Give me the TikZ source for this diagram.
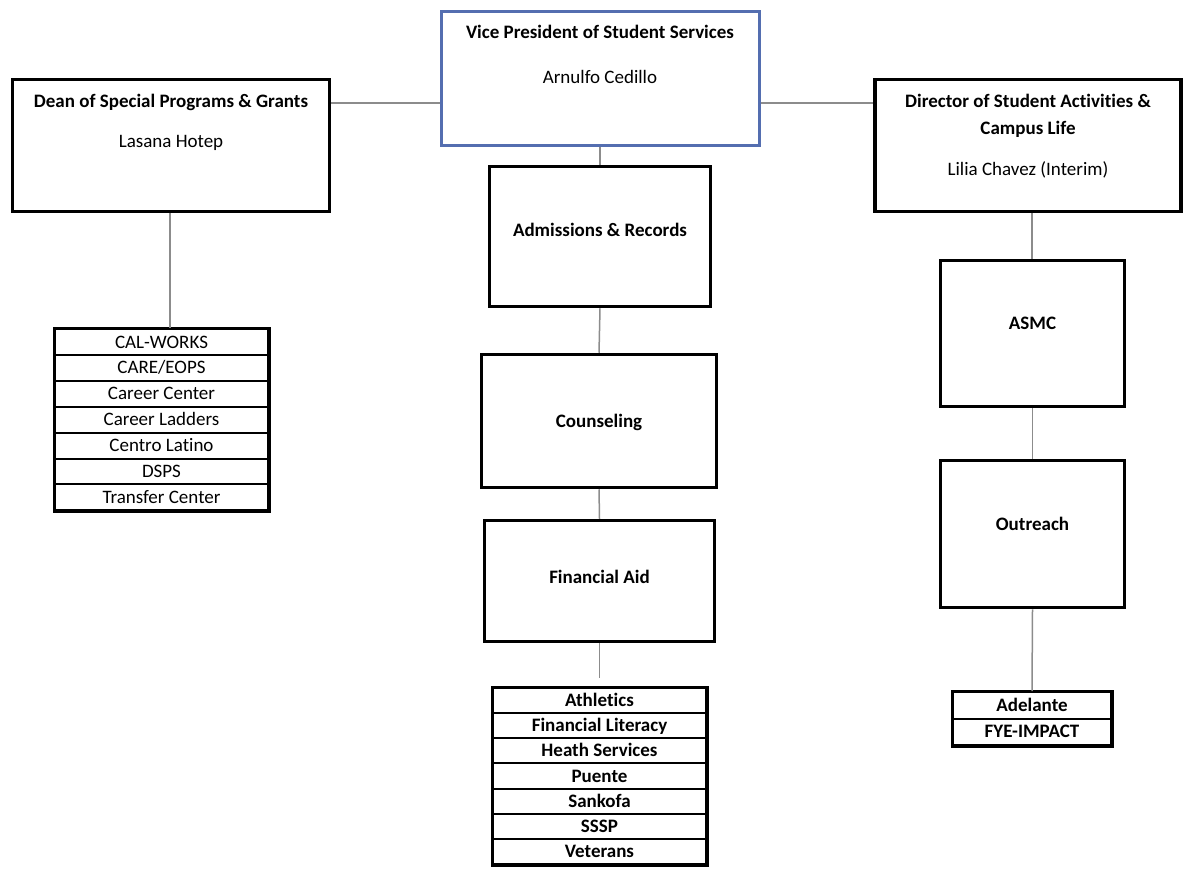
\documentclass[tikz,border=0pt]{standalone}
\usepackage{fontspec}
\setmainfont{Carlito}[Ligatures=CommonOff]
\definecolor{vpblue}{RGB}{84,110,176}
\definecolor{conn}{RGB}{140,140,140}
\begin{document}
\begin{tikzpicture}[x=1pt,y=-1pt,
  orgbox/.style={draw=black, line width=3.5pt, inner sep=0pt, fill=white},
  vpbox/.style={draw=vpblue, line width=3pt, inner sep=0pt, fill=white},
  ttl/.style={font=\fontsize{19}{22}\selectfont\bfseries, inner sep=0pt, align=center},
  nm/.style={font=\fontsize{19}{22}\selectfont, inner sep=0pt},
  rowbox/.style={draw=black, line width=2pt, inner sep=0pt, text height=14pt, text depth=2pt, font=\fontsize{19}{21}\selectfont},
  rowbold/.style={rowbox, font=\fontsize{19}{21}\selectfont\bfseries},
  frame/.style={draw=black, line width=3pt},
  link/.style={draw=conn, line width=1.5pt}]
\useasboundingbox (0,0) rectangle (1185,869);
\fill[white] (0,0) rectangle (1185,869);

% top boxes
\node[orgbox, minimum width=317pt, minimum height=132pt] (dean) at (171,145.5) {};
\node[ttl] (deanT) at (171,102) {Dean of Special Programs \& Grants};
\node[nm] (deanN) at (171,143) {Lasana Hotep};

\node[vpbox, minimum width=318pt, minimum height=134pt] (vp) at (600,79) {};
\node[ttl] (vpT) at (600,32) {Vice President of Student Services};
\node[nm] (vpN) at (600,77) {Arnulfo Cedillo};

\node[orgbox, minimum width=306pt, minimum height=132pt] (dir) at (1028,145.5) {};
\node[ttl] (dirT1) at (1028,101) {Director of Student Activities \&};
\node[ttl] (dirT2) at (1028,129) {Campus Life};
\node[nm] (dirN) at (1028,170) {Lilia Chavez (Interim)};

% middle column
\node[orgbox, minimum width=221pt, minimum height=140pt] (adm) at (600,236.5) {};
\node[ttl] (admT) at (600,230) {Admissions \& Records};
\node[orgbox, minimum width=235pt, minimum height=133pt] (cou) at (599,421) {};
\node[ttl] (couT) at (599,422) {Counseling};
\node[orgbox, minimum width=230pt, minimum height=121pt] (fin) at (599.5,581) {};
\node[ttl] (finT) at (599.5,577) {Financial Aid};

% right column
\node[orgbox, minimum width=184pt, minimum height=146pt] (asmc) at (1032.5,333.5) {};
\node[ttl] (asmcT) at (1032.5,323) {ASMC};
\node[orgbox, minimum width=184pt, minimum height=147pt] (out) at (1032.5,534) {};
\node[ttl] (outT) at (1032.5,524) {Outreach};

% lists
\foreach \t [count=\i from 0] in {CAL-WORKS,CARE/EOPS,Career Center,Career Ladders,Centro Latino,DSPS,Transfer Center}
  \node[rowbox, minimum width=213pt, minimum height=25.9pt] (L\i) at (161.5,{342+\i*25.9}) {\t};
\draw[frame] (L0.north west) rectangle (L6.south east);

\foreach \t [count=\i from 0] in {Athletics,Financial Literacy,Heath Services,Puente,Sankofa,SSSP,Veterans}
  \node[rowbold, minimum width=213pt, minimum height=25.15pt] (M\i) at (599.5,{700.6+\i*25.15}) {\t};
\draw[frame] (M0.north west) rectangle (M6.south east);

\foreach \t [count=\i from 0] in {Adelante,FYE-IMPACT}
  \node[rowbold, minimum width=158pt, minimum height=26.5pt] (R\i) at (1032,{705.25+\i*26.5}) {\t};
\draw[frame] (R0.north west) rectangle (R1.south east);

% connectors
\draw[link] (dean.east |- 0,103) -- (vp.west |- 0,103);
\draw[link] (vp.east |- 0,103) -- (dir.west |- 0,103);
\draw[link] (vp.south) -- (adm.north);
\draw[link] (adm.south) -- (cou.north);
\draw[link] (cou.south) -- (fin.north);
\coordinate (finEnd) at (599.5,678);
\draw[link] (fin.south) -- (finEnd);
\draw[link] (dean.south -| 170,0) -- (L0.north -| 170,0);
\draw[link] (dir.south -| 1032,0) -- (asmc.north -| 1032,0);
\draw[link] (asmc.south) -- (out.north);
\draw[link] (out.south) -- (R0.north);
\end{tikzpicture}
\end{document}
